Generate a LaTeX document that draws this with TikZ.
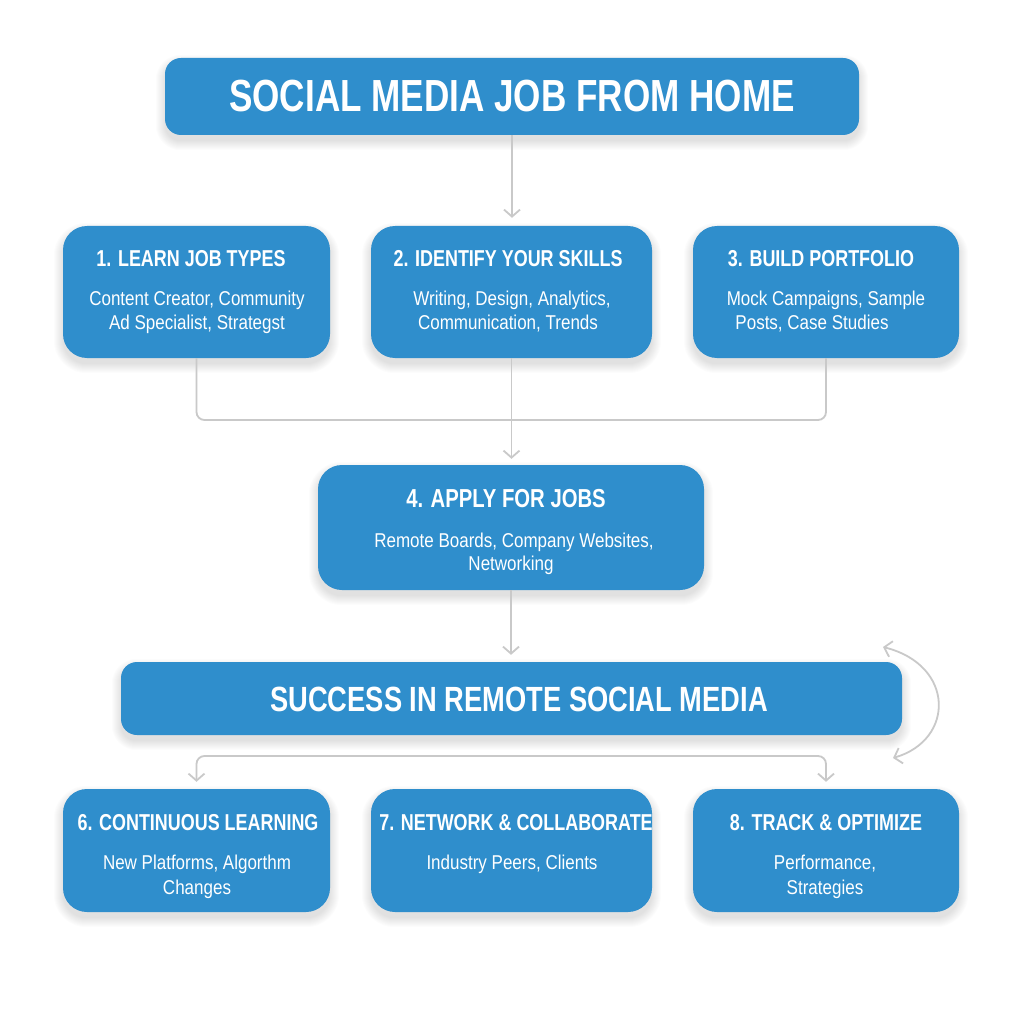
\documentclass[tikz,border=0pt]{standalone}
\usepackage{fontspec}
\setmainfont{Liberation Sans}
\newfontfamily\headfont[FakeStretch=0.78]{Liberation Sans}
\newfontfamily\descfont[FakeStretch=0.85]{Liberation Sans}
\usetikzlibrary{arrows.meta}
\definecolor{boxblue}{HTML}{2F8ECC}
\definecolor{conncol}{HTML}{C9C9C9}
\pgfdeclarelayer{background}
\pgfsetlayers{background,main}
\newcommand{\softshadow}[2]{%
  \foreach \k in {0,...,9}{%
    \fill[black, opacity=0.011, rounded corners={(#2+\k)*1pt}]
      ([xshift={-\k*1pt}, yshift={(\k-6)*1pt}]#1.north west) rectangle
      ([xshift={\k*1pt}, yshift={(-\k-6)*1pt}]#1.south east);
  }%
}
\begin{document}
\begin{tikzpicture}[x=1pt,y=-1pt,
  box/.style={fill=boxblue, rounded corners=24pt, inner sep=0pt},
  bigtitle/.style={text=white, anchor=base, inner sep=0pt, font=\headfont\bfseries\fontsize{45}{50}\selectfont},
  stitle/.style={text=white, anchor=base, inner sep=0pt, font=\headfont\bfseries\fontsize{23}{27}\selectfont},
  desc/.style={text=white, anchor=base, inner sep=0pt, font=\descfont\fontsize{20}{24}\selectfont},
  conn/.style={draw=conncol, line width=1.8pt},
  tipv/.tip={Straight Barb[length=7pt,width=16pt]}
]
\useasboundingbox (0,0) rectangle (1024,1024);

% boxes
\node[box, rounded corners=16pt, minimum width=694pt, minimum height=77pt] (top) at (512,96.5) {};
\node[box, minimum width=267pt, minimum height=132pt] (b1) at (196.5,292) {};
\node[box, minimum width=281pt, minimum height=132pt] (b2) at (511.5,292) {};
\node[box, minimum width=266pt, minimum height=132pt] (b3) at (826,292) {};
\node[box, minimum width=386pt, minimum height=125pt] (b4) at (511,527.5) {};
\node[box, rounded corners=16pt, minimum width=781pt, minimum height=73pt] (succ) at (511.5,698.5) {};
\node[box, minimum width=267pt, minimum height=123pt] (b6) at (196.5,850.5) {};
\node[box, minimum width=281pt, minimum height=123pt] (b7) at (511.5,850.5) {};
\node[box, minimum width=266pt, minimum height=123pt] (b8) at (826,850.5) {};

\begin{pgfonlayer}{background}
  \fill[white] (0,0) rectangle (1024,1024);
  \softshadow{top}{16}
  \softshadow{b1}{24}
  \softshadow{b2}{24}
  \softshadow{b3}{24}
  \softshadow{b4}{24}
  \softshadow{succ}{16}
  \softshadow{b6}{24}
  \softshadow{b7}{24}
  \softshadow{b8}{24}
\end{pgfonlayer}

% texts
\node[bigtitle] (ttop) at (512,112) {SOCIAL MEDIA JOB FROM HOME};

\node[stitle] (t1) at (191,266) {1. LEARN JOB TYPES};
\node[desc] (d1a) at (197,305) {Content Creator, Community};
\node[desc] (d1b) at (197,329) {Ad Specialist, Strategst};

\node[stitle] (t2) at (508,266) {2. IDENTIFY YOUR SKILLS};
\node[desc] (d2a) at (512,305) {Writing, Design, Analytics,};
\node[desc] (d2b) at (508,329) {Communication, Trends};

\node[stitle] (t3) at (821,266) {3. BUILD PORTFOLIO};
\node[desc] (d3a) at (826,305) {Mock Campaigns, Sample};
\node[desc] (d3b) at (812,329) {Posts, Case Studies};

\node[stitle, font=\headfont\bfseries\fontsize{26}{30}\selectfont] (t4) at (506,507) {4. APPLY FOR JOBS};
\node[desc] (d4a) at (514,547) {Remote Boards, Company Websites,};
\node[desc] (d4b) at (511,570) {Networking};

\node[stitle, font=\headfont\bfseries\fontsize{35}{40}\selectfont] (ts) at (519,711) {SUCCESS IN REMOTE SOCIAL MEDIA};

\node[stitle] (t6) at (198,830) {6. CONTINUOUS LEARNING};
\node[desc] (d6a) at (197,869) {New Platforms, Algorthm};
\node[desc] (d6b) at (197,894) {Changes};

\node[stitle] (t7) at (516,830) {7. NETWORK \& COLLABORATE};
\node[desc] (d7a) at (512,869) {Industry Peers, Clients};

\node[stitle] (t8) at (826,830) {8. TRACK \& OPTIMIZE};
\node[desc] (d8a) at (825,869) {Performance,};
\node[desc] (d8b) at (825,894) {Strategies};

% connectors
\draw[conn, -{tipv}, shorten >=8pt] (top.south) -- (top.south |- b2.north);

\coordinate (mL) at (196.5,420);
\coordinate (mR) at (826,420);
\draw[conn, rounded corners=8pt] (b1.south) -- (mL) -- (mR) -- (b3.south);
\draw[conn, -{tipv}, shorten >=6pt] (b2.south) -- (b4.north -| b2.south);

\draw[conn, -{tipv}, shorten >=7pt] (b4.south) -- (succ.north -| b4.south);

\coordinate (hl) at (511.5,756);
\draw[conn, {tipv}-{tipv}, rounded corners=8pt, shorten <=7pt, shorten >=7pt] (b6.north) |- (hl) -| (b8.north);

\coordinate (cA) at (883,647);
\coordinate (cB) at (893,758);
\draw[conn, {tipv}-{tipv}] (cA) .. controls (955,665) and (955,740) .. (cB);
\end{tikzpicture}
\end{document}
